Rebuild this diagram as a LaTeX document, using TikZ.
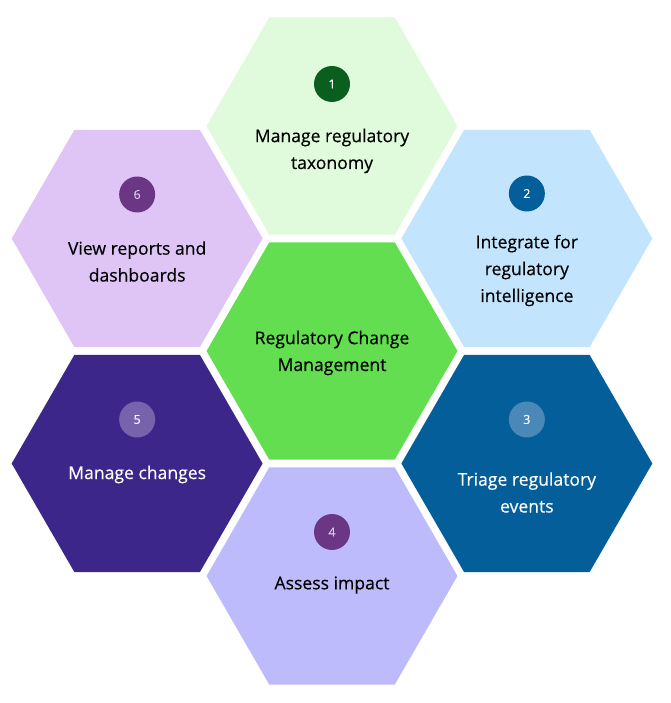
\documentclass[tikz,border=0pt]{standalone}
\usepackage{fontspec}
\setmainfont{Open Sans}
\newfontfamily\medfont{Open Sans}[FakeBold=0.35]
\usetikzlibrary{positioning}
\usetikzlibrary{calc}
\usetikzlibrary{shapes.geometric}
\definecolor{hubgreen}{HTML}{62DE50}
\definecolor{mint}{HTML}{DFFBDB}
\definecolor{forest}{HTML}{0B5F1E}
\definecolor{skyblue}{HTML}{C3E4FD}
\definecolor{ocean}{HTML}{045E99}
\definecolor{oceanlight}{HTML}{4A89B7}
\definecolor{periwinkle}{HTML}{BEBBFC}
\definecolor{plum}{HTML}{6B3683}
\definecolor{plumtext}{HTML}{D9C7F0}
\definecolor{indigo}{HTML}{3C268A}
\definecolor{indigolight}{HTML}{7663AC}
\definecolor{lilac}{HTML}{DEC5F6}

\begin{document}
\begin{tikzpicture}[x=0.02cm, y=0.02cm,
    hexa/.style={regular polygon, regular polygon sides=6, minimum size=5.02cm, inner sep=0pt},
    badge/.style={circle, minimum size=0.72cm, inner sep=0pt, font=\medfont\fontsize{7}{8}\selectfont},
    lbl/.style={align=center, font=\medfont\fontsize{10}{15.3}\selectfont}]
    \useasboundingbox (0,0) rectangle (671,703);
    % Honeycomb
    \node[hexa, fill=hubgreen] (hub) at (332,352) {};
    \node[hexa, fill=mint] (tax) at ($(hub)+(90:225)$) {};
    \node[hexa, fill=skyblue] (intel) at ($(hub)+(30:225)$) {};
    \node[hexa, fill=ocean] (triage) at ($(hub)+(-30:225)$) {};
    \node[hexa, fill=periwinkle] (impact) at ($(hub)+(-90:225)$) {};
    \node[hexa, fill=indigo] (changes) at ($(hub)+(-150:225)$) {};
    \node[hexa, fill=lilac] (reports) at ($(hub)+(150:225)$) {};
    % Step numbers
    \node[badge, fill=forest, text=white] (b1) at ($(tax)+(0,42)$) {1};
    \node[badge, fill=ocean, text=white] (b2) at ($(intel)+(0,45)$) {2};
    \node[badge, fill=oceanlight, text=white] (b3) at ($(triage)+(0,44)$) {3};
    \node[badge, fill=plum, text=plumtext] (b4) at ($(impact)+(0,44)$) {4};
    \node[badge, fill=indigolight, text=white] (b5) at ($(changes)+(0,44)$) {5};
    \node[badge, fill=plum, text=plumtext] (b6) at ($(reports)+(0,44)$) {6};
    % Labels
    \node[lbl] (lhub) at ($(hub)+(0,-2)$) {Regulatory Change\\Management};
    \node[lbl] (l1) at ($(tax)+(0,-25)$) {Manage regulatory\\taxonomy};
    \node[lbl] (l2) at ($(intel)+(0,-32)$) {Integrate for\\regulatory\\intelligence};
    \node[lbl, text=white] (l3) at ($(triage)+(0,-29)$) {Triage regulatory\\events};
    \node[lbl] (l4) at ($(impact)+(0,-9)$) {Assess impact};
    \node[lbl, text=white] (l5) at ($(changes)+(0,-11)$) {Manage changes};
    \node[lbl] (l6) at ($(reports)+(0,-23)$) {View reports and\\dashboards};
\end{tikzpicture}
\end{document}
